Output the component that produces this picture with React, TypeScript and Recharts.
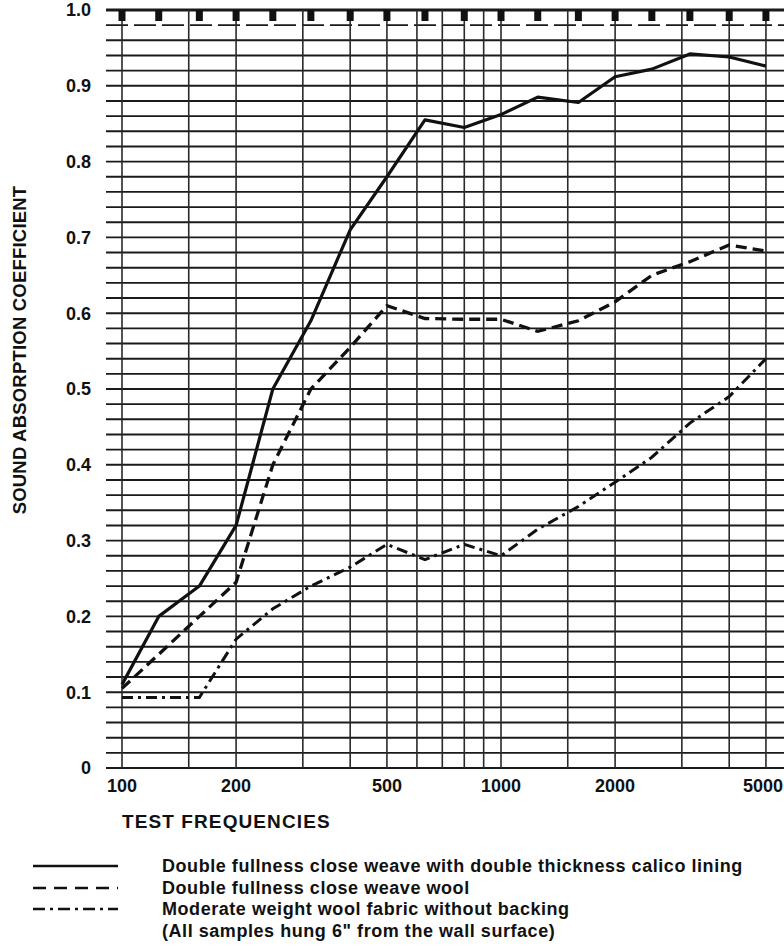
import React from 'react';
import { ComposedChart, Line, XAxis, YAxis, ReferenceLine } from 'recharts';

// Test frequencies (Hz), 1/3-octave bands
const frequencies = [100, 125, 160, 200, 250, 315, 400, 500, 630, 800, 1000, 1250, 1600, 2000, 2500, 3150, 4000, 5000];

// Sound absorption coefficients
const calicoLined = [0.11, 0.2, 0.24, 0.32, 0.5, 0.59, 0.71, 0.78, 0.855, 0.845, 0.862, 0.885, 0.878, 0.912, 0.922, 0.942, 0.938, 0.926];
const closeWeaveWool = [0.105, 0.15, 0.2, 0.245, 0.4, 0.5, 0.555, 0.61, 0.593, 0.592, 0.592, 0.576, 0.59, 0.615, 0.65, 0.668, 0.69, 0.682];
const moderateWool = [0.093, 0.093, 0.093, 0.17, 0.21, 0.24, 0.265, 0.295, 0.275, 0.295, 0.28, 0.315, 0.345, 0.377, 0.41, 0.455, 0.49, 0.54];

// Axis ticks and labels
const xTickValues = [100, 200, 500, 1000, 2000, 5000];
const yTickValues = [0, 0.1, 0.2, 0.3, 0.4, 0.5, 0.6, 0.7, 0.8, 0.9, 1.0];
const yTickLabels = ['0', '0.1', '0.2', '0.3', '0.4', '0.5', '0.6', '0.7', '0.8', '0.9', '1.0'];

// Graph-paper rulings
const verticalGrid = [100, 150, 200, 300, 400, 500, 600, 700, 800, 900, 1000, 1500, 2000, 3000, 4000, 5000];
const horizontalGrid = [
  0, 0.02, 0.04, 0.06, 0.08, 0.1, 0.12, 0.14, 0.16, 0.18, 0.2, 0.22, 0.24, 0.26, 0.28, 0.3, 0.32, 0.34, 0.36, 0.38,
  0.4, 0.42, 0.44, 0.46, 0.48, 0.5, 0.52, 0.54, 0.56, 0.58, 0.6, 0.62, 0.64, 0.66, 0.68, 0.7, 0.72, 0.74, 0.76, 0.78,
  0.8, 0.82, 0.84, 0.86, 0.88, 0.9, 0.92, 0.94, 0.96, 1.0,
];
const dashedRuling = [0.98];
const topMarkerLevel = 1.0;

const legendItems = [
  { label: 'Double fullness close weave with double thickness calico lining', dash: '' },
  { label: 'Double fullness close weave wool', dash: '13 8' },
  { label: 'Moderate weight wool fabric without backing', dash: '12 5 3 5' },
];
const legendNote = '(All samples hung 6" from the wall surface)';

const data = frequencies.map((f, i) => ({
  freq: f,
  calico: calicoLined[i],
  wool: closeWeaveWool[i],
  moderate: moderateWool[i],
  marker: topMarkerLevel,
}));

const FONT = '"Liberation Sans", Arial, Helvetica, sans-serif';
const INK = '#111';

const tickStyle = { fill: INK, fontSize: 18, fontWeight: 'bold', fontFamily: FONT };

const renderMarker = (p: any) => (
  <rect key={`m-${p.index}`} x={p.cx - 3.5} y={p.cy} width={7} height={11} fill={INK} />
);

const XTick = (props: any) => {
  const { x, y, payload } = props;
  const isLast = payload.value === xTickValues[xTickValues.length - 1];
  return (
    <text
      x={isLast ? 783 : x}
      y={y}
      dy="0.71em"
      textAnchor={isLast ? 'end' : 'middle'}
      fill={INK}
      fontSize={18}
      fontWeight="bold"
      fontFamily={FONT}
    >
      {payload.value}
    </text>
  );
};

export default function App() {
  return (
    <div
      style={{
        position: 'absolute',
        left: 0,
        top: 0,
        width: 784,
        height: 951,
        background: '#fff',
        fontFamily: FONT,
        fontWeight: 'bold',
        color: INK,
        overflow: 'hidden',
      }}
    >
      <ComposedChart width={784} height={800} data={data} margin={{ top: 10, right: 0, bottom: 0, left: 0 }}>
        <XAxis
          dataKey="freq"
          type="number"
          scale="log"
          domain={[90.74, 5580]}
          allowDataOverflow
          ticks={xTickValues}
          interval={0}
          height={32}
          axisLine={false}
          tickLine={false}
          tickSize={4}
          tickMargin={7}
          tick={<XTick />}
        />
        <YAxis
          type="number"
          domain={[0, 1]}
          allowDataOverflow
          ticks={yTickValues}
          interval={0}
          width={106}
          axisLine={false}
          tickLine={false}
          tickSize={6}
          tickMargin={9}
          tick={tickStyle}
          tickFormatter={(v: number) => {
            const i = yTickValues.findIndex((t) => Math.abs(t - v) < 1e-6);
            return i >= 0 ? yTickLabels[i] : '';
          }}
        />
        {horizontalGrid.map((v) => (
          <ReferenceLine key={`h-${v}`} y={v} stroke="#1a1a1a" strokeWidth={v === 1 ? 3 : 1.9} ifOverflow="visible" />
        ))}
        {dashedRuling.map((v) => (
          <ReferenceLine key={`hd-${v}`} y={v} stroke="#1a1a1a" strokeWidth={1.8} strokeDasharray="22 6" />
        ))}
        {verticalGrid.map((f) => (
          <ReferenceLine key={`v-${f}`} x={f} stroke="#2a2a2a" strokeWidth={1.6} />
        ))}
        <Line
          dataKey="marker"
          stroke="none"
          dot={renderMarker}
          activeDot={false}
          isAnimationActive={false}
        />
        <Line
          dataKey="calico"
          stroke={INK}
          strokeWidth={3.2}
          dot={false}
          activeDot={false}
          strokeLinejoin="round"
          isAnimationActive={false}
        />
        <Line
          dataKey="wool"
          stroke={INK}
          strokeWidth={3.3}
          strokeDasharray="11 6"
          dot={false}
          activeDot={false}
          isAnimationActive={false}
        />
        <Line
          dataKey="moderate"
          stroke={INK}
          strokeWidth={3}
          strokeDasharray="11 5 3 5"
          dot={false}
          activeDot={false}
          isAnimationActive={false}
        />
      </ComposedChart>

      <svg width={40} height={400} style={{ position: 'absolute', left: 0, top: 150 }}>
        <text
          x={19}
          y={200}
          transform="rotate(-90 19 200)"
          textAnchor="middle"
          dominantBaseline="central"
          fontFamily={FONT}
          fontWeight="bold"
          fontSize={18.5}
          letterSpacing={0.2}
          fill={INK}
        >
          SOUND ABSORPTION COEFFICIENT
        </text>
      </svg>

      <div style={{ position: 'absolute', left: 122, top: 811, fontSize: 19, letterSpacing: 1.1, whiteSpace: 'nowrap' }}>
        TEST FREQUENCIES
      </div>

      {legendItems.map((item, i) => (
        <div key={item.label} style={{ position: 'absolute', left: 0, top: 855 + i * 21.5, height: 22, width: 784 }}>
          <svg width={100} height={22} style={{ position: 'absolute', left: 28, top: 0 }}>
            <line x1={5} y1={11} x2={90} y2={11} stroke={INK} strokeWidth={2.6} strokeDasharray={item.dash || undefined} />
          </svg>
          <div
            style={{
              position: 'absolute',
              left: 162,
              top: 0,
              lineHeight: '22px',
              fontSize: 18,
              letterSpacing: 0.55,
              whiteSpace: 'nowrap',
            }}
          >
            {item.label}
          </div>
        </div>
      ))}
      <div
        style={{
          position: 'absolute',
          left: 162,
          top: 855 + 3 * 21.5,
          lineHeight: '22px',
          fontSize: 18,
          letterSpacing: 0.55,
          whiteSpace: 'nowrap',
        }}
      >
        {legendNote}
      </div>
    </div>
  );
}
